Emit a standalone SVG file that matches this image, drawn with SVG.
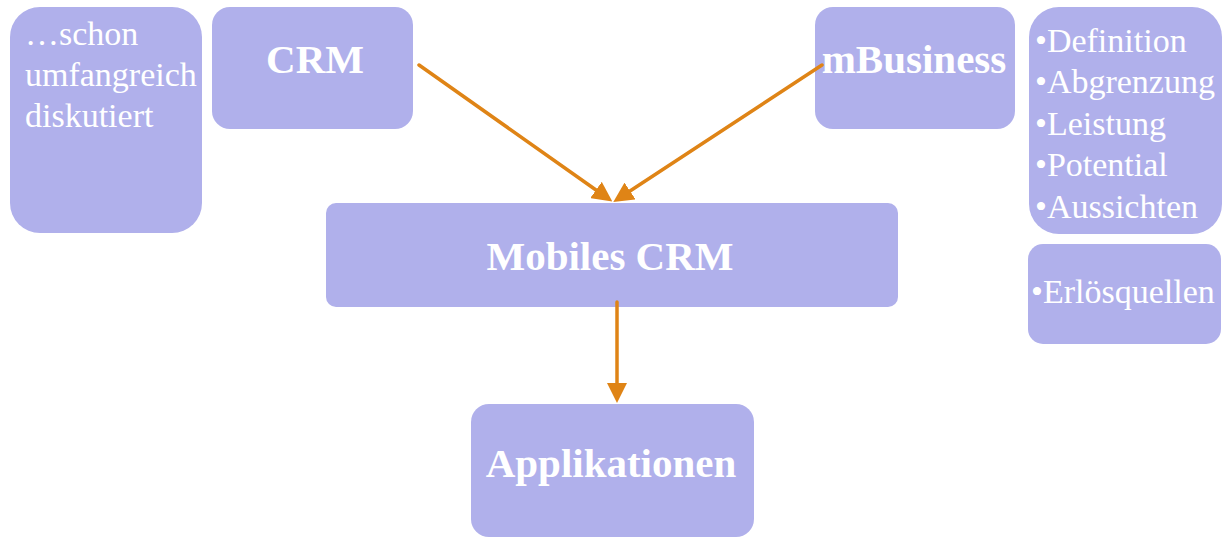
<svg xmlns="http://www.w3.org/2000/svg" width="1226" height="537" viewBox="0 0 1226 537">
<style>
.box{fill:#B0B0EB}
.t{font-family:"Liberation Serif","Times New Roman",serif;fill:#FFFFFF}
.b{font-weight:bold;font-size:41px;text-anchor:middle}
.r{font-size:34px}
.c{stroke:#DF8416;stroke-width:3.5;stroke-linecap:round;fill:none}
</style>
<defs>
<marker id="ah" viewBox="0 0 10 10" refX="0" refY="5" markerUnits="userSpaceOnUse" markerWidth="20" markerHeight="20" orient="auto">
<path d="M0,0 L10,5 L0,10 z" fill="#DF8416"/>
</marker>
</defs>
<rect width="1226" height="537" fill="#FFFFFF"/>
<g id="node-schon">
<rect class="box" x="10" y="7" width="192" height="226" rx="30"/>
<text class="t r" x="25" y="45">…schon</text>
<text class="t r" x="25" y="86">umfangreich</text>
<text class="t r" x="25" y="127">diskutiert</text>
</g>
<g id="node-crm">
<rect class="box" x="212" y="7" width="201" height="122" rx="18"/>
<text class="t b" x="315" y="73">CRM</text>
</g>
<g id="node-mbusiness">
<rect class="box" x="815" y="7" width="200" height="122" rx="18"/>
<text class="t b" x="914" y="73">mBusiness</text>
</g>
<g id="node-list">
<rect class="box" x="1029" y="7" width="193" height="227" rx="30"/>
<text class="t r" x="1035" y="52">•Definition</text>
<text class="t r" x="1035" y="93">•Abgrenzung</text>
<text class="t r" x="1035" y="135">•Leistung</text>
<text class="t r" x="1035" y="176">•Potential</text>
<text class="t r" x="1035" y="218">•Aussichten</text>
</g>
<g id="node-erloes">
<rect class="box" x="1028" y="244" width="193" height="100" rx="15"/>
<text class="t r" x="1031" y="303">•Erlösquellen</text>
</g>
<g id="node-mobiles">
<rect class="box" x="326" y="203" width="572" height="104" rx="10"/>
<text class="t b" x="610" y="270">Mobiles CRM</text>
</g>
<g id="node-applikationen">
<rect class="box" x="471" y="404" width="283" height="133" rx="18"/>
<text class="t b" x="611" y="477">Applikationen</text>
</g>
<g id="connectors">
<line class="c" x1="419" y1="65" x2="596" y2="190" marker-end="url(#ah)"/>
<line class="c" x1="822" y1="65" x2="630" y2="191" marker-end="url(#ah)"/>
<line class="c" x1="617" y1="302" x2="617" y2="383" marker-end="url(#ah)"/>
</g>
</svg>
